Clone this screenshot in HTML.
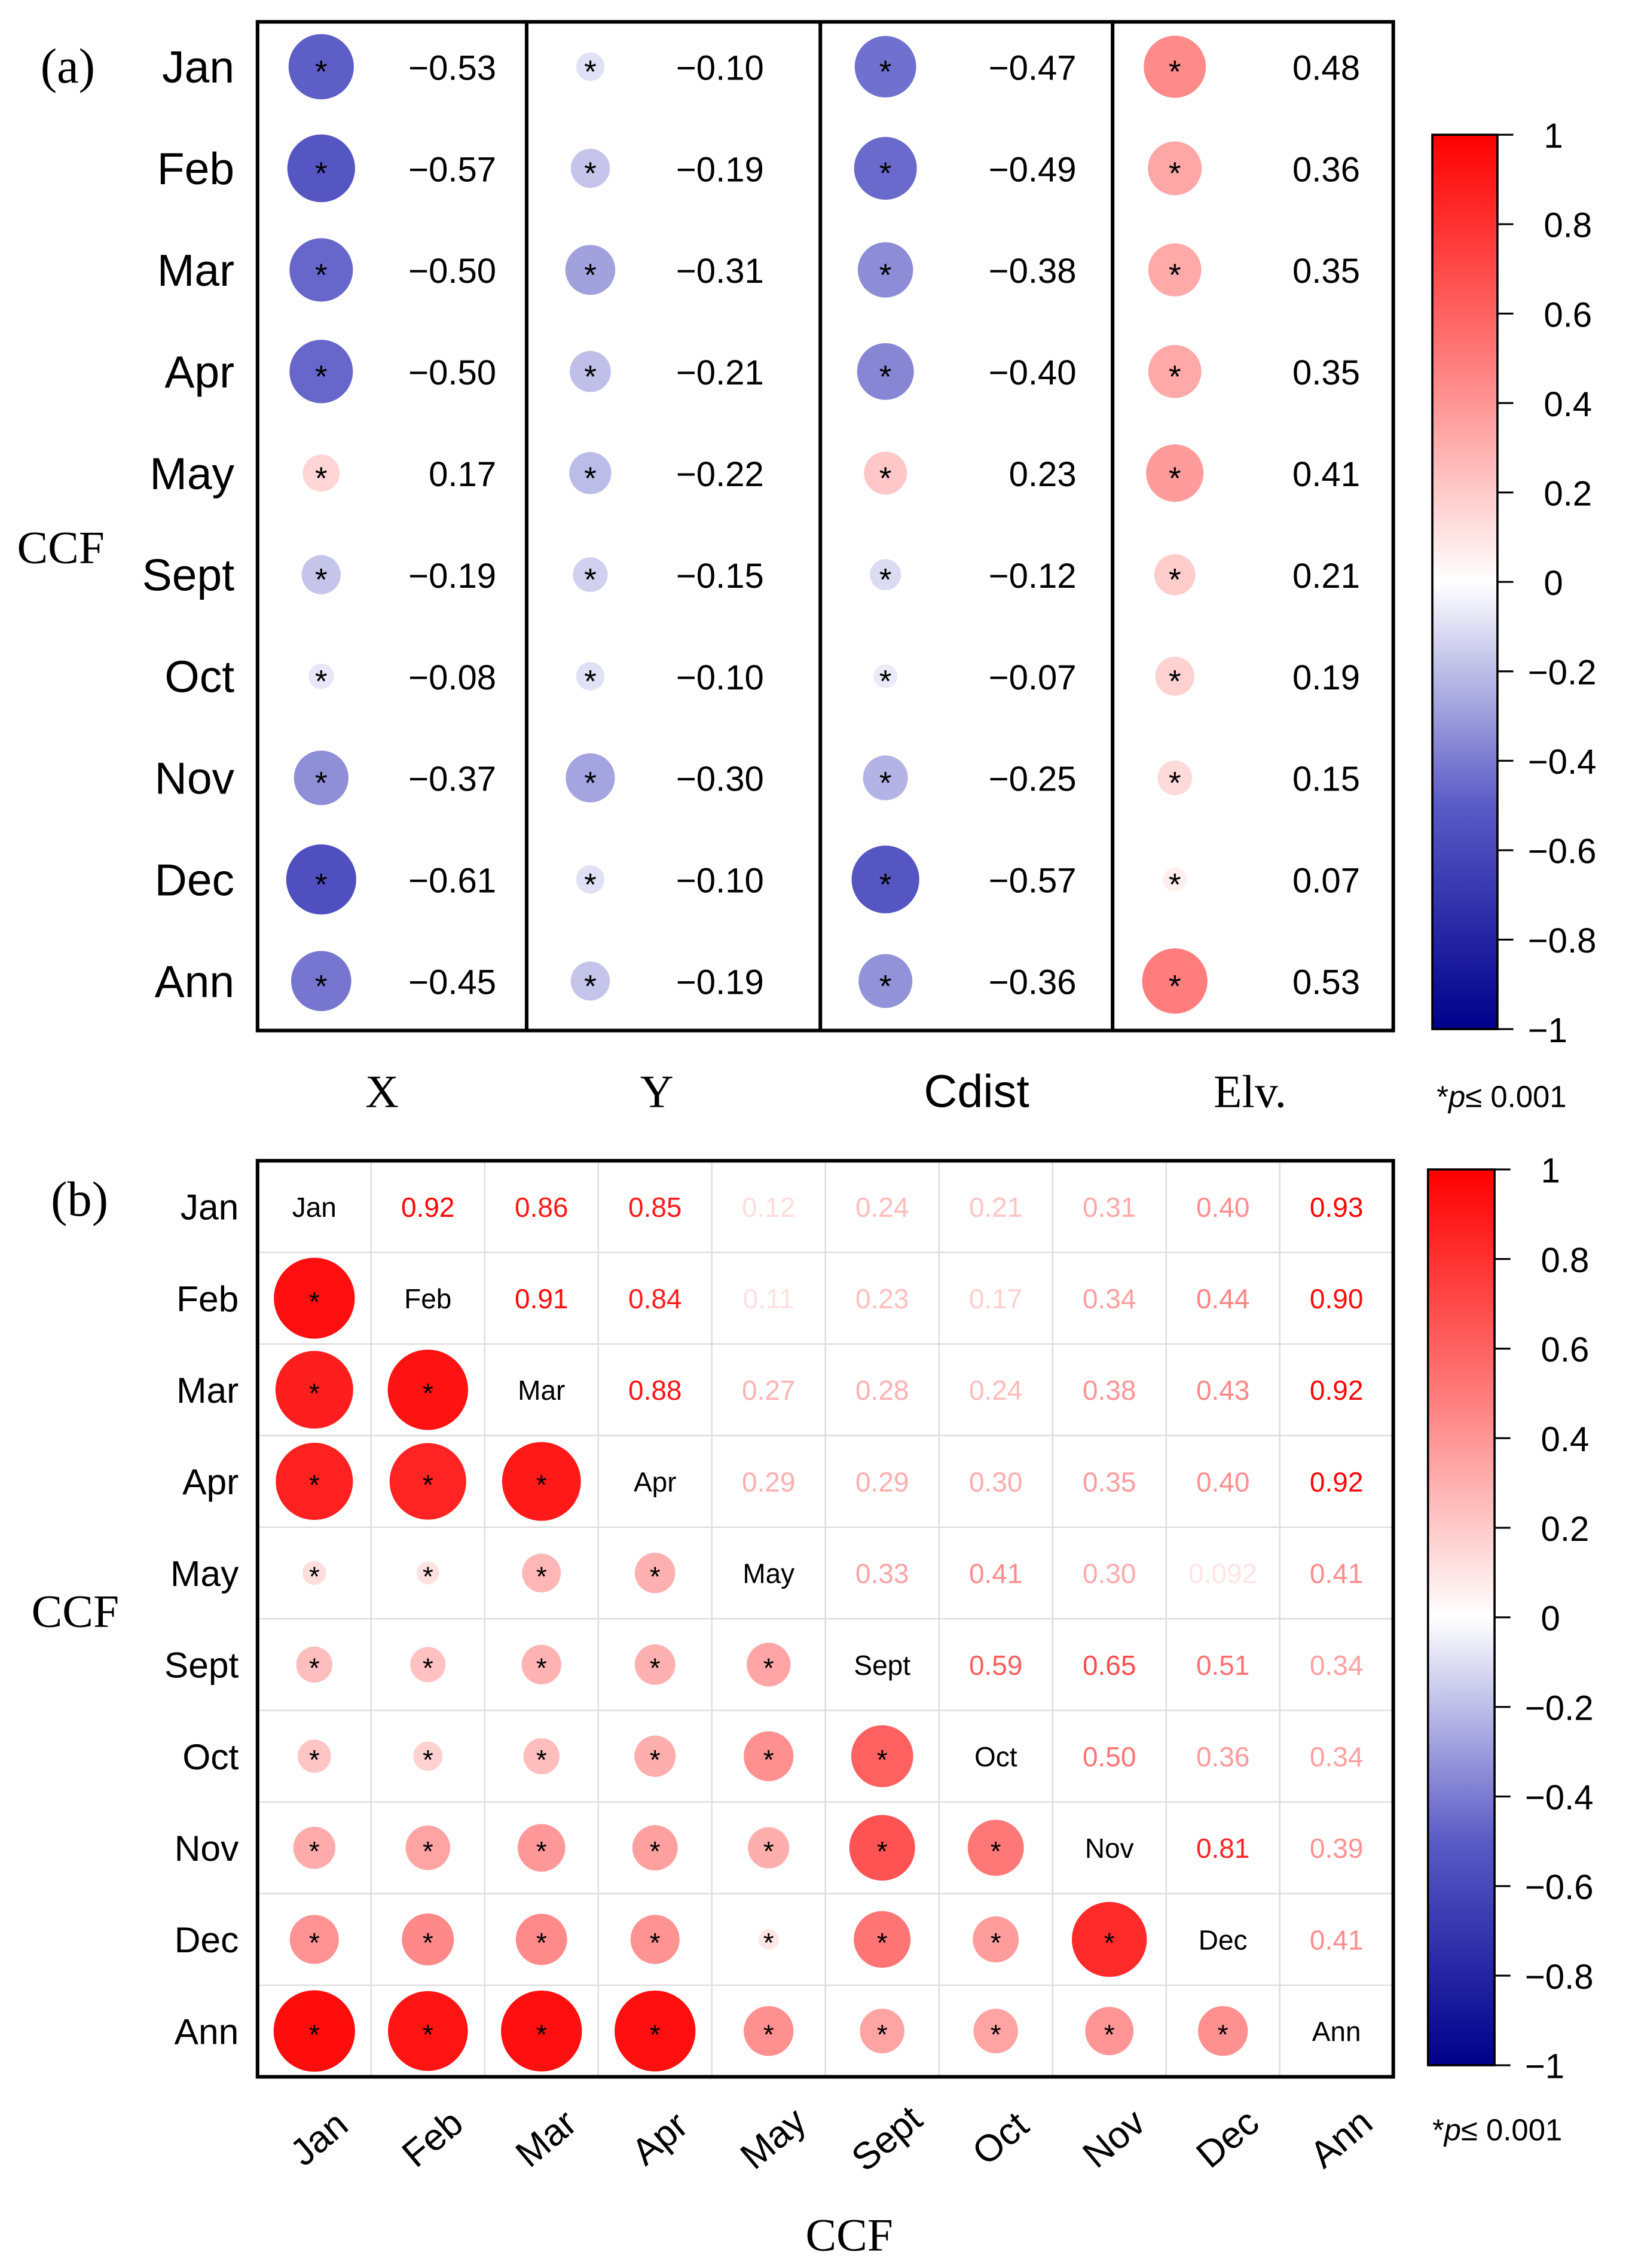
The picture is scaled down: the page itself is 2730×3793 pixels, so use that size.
<!DOCTYPE html>
<html><head><meta charset="utf-8">
<style>
html,body{margin:0;padding:0;background:#fff;}
svg{display:block;}
.sans{font-family:"Liberation Sans","DejaVu Sans",sans-serif;}
.serif{font-family:"Liberation Serif","DejaVu Serif",serif;}
</style></head>
<body>
<svg id="fig" width="2730" height="3793" viewBox="0 0 1128 1567" xmlns="http://www.w3.org/2000/svg">
<defs>
<linearGradient id="cbar" x1="0" y1="1" x2="0" y2="0">
<stop offset="0" stop-color="#00008b"/>
<stop offset="0.25" stop-color="#5a5ac6"/>
<stop offset="0.5" stop-color="#ffffff"/>
<stop offset="0.75" stop-color="#ff7a7a"/>
<stop offset="1" stop-color="#ff0000"/>
</linearGradient>
</defs>
<g id="pa"></g>
<g id="pb"></g>
</svg>
<script>
// ---- data ----
const months = ["Jan","Feb","Mar","Apr","May","Sept","Oct","Nov","Dec","Ann"];
const varsA = ["X","Y","Cdist","Elv."];
const valX = [-0.53,-0.57,-0.50,-0.50,0.17,-0.19,-0.08,-0.37,-0.61,-0.45];
const valY = [-0.10,-0.19,-0.31,-0.21,-0.22,-0.15,-0.10,-0.30,-0.10,-0.19];
const valCdist = [-0.47,-0.49,-0.38,-0.40,0.23,-0.12,-0.07,-0.25,-0.57,-0.36];
const valElv = [0.48,0.36,0.35,0.35,0.41,0.21,0.19,0.15,0.07,0.53];
const rowJan = [1,0.92,0.86,0.85,0.12,0.24,0.21,0.31,0.40,0.93];
const rowFeb = [0.92,1,0.91,0.84,0.11,0.23,0.17,0.34,0.44,0.90];
const rowMar = [0.86,0.91,1,0.88,0.27,0.28,0.24,0.38,0.43,0.92];
const rowApr = [0.85,0.84,0.88,1,0.29,0.29,0.30,0.35,0.40,0.92];
const rowMay = [0.12,0.11,0.27,0.29,1,0.33,0.41,0.30,0.092,0.41];
const rowSept = [0.24,0.23,0.28,0.29,0.33,1,0.59,0.65,0.51,0.34];
const rowOct = [0.21,0.17,0.24,0.30,0.41,0.59,1,0.50,0.36,0.34];
const rowNov = [0.31,0.34,0.38,0.35,0.30,0.65,0.50,1,0.81,0.39];
const rowDec = [0.40,0.44,0.43,0.40,0.092,0.51,0.36,0.81,1,0.41];
const rowAnn = [0.93,0.90,0.92,0.92,0.41,0.34,0.34,0.39,0.41,1];
const cbTicks = [1,0.8,0.6,0.4,0.2,0,-0.2,-0.4,-0.6,-0.8,-1];

const NS="http://www.w3.org/2000/svg";
function mk(tag, attrs, parent, text){
  const e=document.createElementNS(NS,tag);
  for(const k in attrs) e.setAttribute(k,attrs[k]);
  if(text!==undefined) e.textContent=text;
  parent.appendChild(e); return e;
}
function lerp(a,b,t){return Math.round(a+(b-a)*t);}
function mix(c1,c2,t){return `rgb(${lerp(c1[0],c2[0],t)},${lerp(c1[1],c2[1],t)},${lerp(c1[2],c2[2],t)})`;}
function cmap(v){
  v=Math.max(-1,Math.min(1,v));
  if(v>=0.5) return mix([255,122,122],[255,0,0],(v-0.5)/0.5);
  if(v>=0) return mix([255,255,255],[255,122,122],v/0.5);
  if(v>=-0.5) return mix([255,255,255],[90,90,198],-v/0.5);
  return mix([90,90,198],[0,0,139],(-v-0.5)/0.5);
}

// ---- panel a ----
const pa=document.getElementById('pa');
const aL=178,aR=963,aT=15,aB=712;
const aRowY=i=>46+i*70.2;
const aColCx=[222,408,612,812];
const aValX=[343,528,744,940];
const aDivs=[364,567,769];
const aCols=[valX,valY,valCdist,valElv];
let t;
t=mk('text',{x:28,y:57,'font-size':34,class:'serif'},pa,'(a)');


t=mk('text',{x:42,y:389,'font-size':32,'text-anchor':'middle',class:'serif'},pa,'CCF');


months.forEach((m,i)=>{
  const e=mk('text',{x:162,y:aRowY(i)+11,'font-size':31,'text-anchor':'end',class:'sans'},pa,m);
  
  
});
aCols.forEach((arr,c)=>{
  arr.forEach((v,i)=>{
    const cy=aRowY(i);
    const circ=mk('circle',{cx:aColCx[c],cy:cy,r:31*Math.sqrt(Math.abs(v)),fill:cmap(v*0.92)},pa);
    
    
    const s=mk('text',{x:aColCx[c],y:cy+11,'font-size':22,'text-anchor':'middle',class:'sans'},pa,'*');
    
    
    const lab=mk('text',{x:aValX[c],y:cy+9,'font-size':24,'text-anchor':'end',class:'sans'},pa,(v<0?'\u2212':'')+Math.abs(v).toFixed(2));
    
    
  });
});
const fr=mk('rect',{x:aL,y:aT,width:aR-aL,height:aB-aT,fill:'none',stroke:'#000','stroke-width':2.5},pa);


aDivs.forEach(x=>{
  const l=mk('line',{x1:x,y1:aT,x2:x,y2:aB,stroke:'#000','stroke-width':2.5},pa);
  
  
});
const colLabX=[264,454,675,864];
varsA.forEach((n,c)=>{
  const e=mk('text',{x:colLabX[c],y:765,'font-size':32,'text-anchor':'middle',class:n==='Cdist'?'sans':'serif'},pa,n);
  
  
});

function colorbar(parent,x0,x1,y0,y1,name){
  const r=mk('rect',{x:x0,y:y0,width:x1-x0,height:y1-y0,fill:'url(#cbar)',stroke:'#000','stroke-width':1.5},parent);
  
  
  cbTicks.forEach(v=>{
    const y=y0+(1-v)/2*(y1-y0);
    const l=mk('line',{x1:x1,y1:y,x2:x1+11,y2:y,stroke:'#000','stroke-width':1.3},parent);
    
    
    const lab = v===0?'0':(v<0?'\u2212':'')+(Math.abs(v)===1?'1':Math.abs(v).toFixed(1));
    const e=mk('text',{x:x1+(v<0?21:32),y:y+9,'font-size':24,class:'sans'},parent,lab);
    
    
  });
}
colorbar(pa,990,1035,93,711,'colorbar-a');
t=mk('text',{x:993,y:765,'font-size':21,class:'sans'},pa,'');


mk('tspan',{},t,'*');mk('tspan',{'font-style':'italic'},t,'p');mk('tspan',{},t,'\u2264 0.001');

// ---- panel b ----
const pb=document.getElementById('pb');
const bL=178,bR=963,bT=802,bB=1435;
const cw=(bR-bL)/10, rh=(bB-bT)/10;
const bx=j=>bL+cw*(j+0.5), by=i=>bT+rh*(i+0.5);
const matrix=[rowJan,rowFeb,rowMar,rowApr,rowMay,rowSept,rowOct,rowNov,rowDec,rowAnn];
for(let k=1;k<10;k++){
  const l1=mk('line',{x1:bL+cw*k,y1:bT,x2:bL+cw*k,y2:bB,stroke:'#ddd','stroke-width':1},pb);
  
  
  const l2=mk('line',{x1:bL,y1:bT+rh*k,x2:bR,y2:bT+rh*k,stroke:'#ddd','stroke-width':1},pb);
  
  
}
matrix.forEach((row,i)=>{
  row.forEach((v,j)=>{
    if(i===j){
      const e=mk('text',{x:bx(j),y:by(i)+7,'font-size':19,'text-anchor':'middle',class:'sans'},pb,months[i]);
      
      
    } else if(j>i){
      const txt = (Math.round(v*100)/100!==v) ? v.toFixed(3) : v.toFixed(2);
      const e=mk('text',{x:bx(j),y:by(i)+7,'font-size':19,'text-anchor':'middle',class:'sans',fill:cmap(v*1.05)},pb,txt);
      
      
    } else {
      const c=mk('circle',{cx:bx(j),cy:by(i),r:28*Math.pow(Math.abs(v),0.6)*1.05,fill:cmap(v*1.02)},pb);
      
      
      const s=mk('text',{x:bx(j),y:by(i)+9,'font-size':19,'text-anchor':'middle',class:'sans'},pb,'*');
      
      
    }
  });
});
const frb=mk('rect',{x:bL,y:bT,width:bR-bL,height:bB-bT,fill:'none',stroke:'#000','stroke-width':2.5},pb);


months.forEach((m,i)=>{
  const e=mk('text',{x:165,y:by(i)+9,'font-size':25,'text-anchor':'end',class:'sans'},pb,m);
  
  
  const g=mk('text',{x:bx(i)+4,y:1489,'font-size':26,'text-anchor':'middle',class:'sans',transform:`rotate(-40 ${bx(i)} 1480)`},pb,m);
  
  
});
t=mk('text',{x:55,y:840,'font-size':34,'text-anchor':'middle',class:'serif'},pb,'(b)');


t=mk('text',{x:52,y:1124,'font-size':32,'text-anchor':'middle',class:'serif'},pb,'CCF');


t=mk('text',{x:587,y:1555,'font-size':32,'text-anchor':'middle',class:'serif'},pb,'CCF');


colorbar(pb,987,1033,808,1427,'colorbar-b');
t=mk('text',{x:990,y:1479,'font-size':21,class:'sans'},pb,'');


mk('tspan',{},t,'*');mk('tspan',{'font-style':'italic'},t,'p');mk('tspan',{},t,'\u2264 0.001');
</script>
</body></html>
